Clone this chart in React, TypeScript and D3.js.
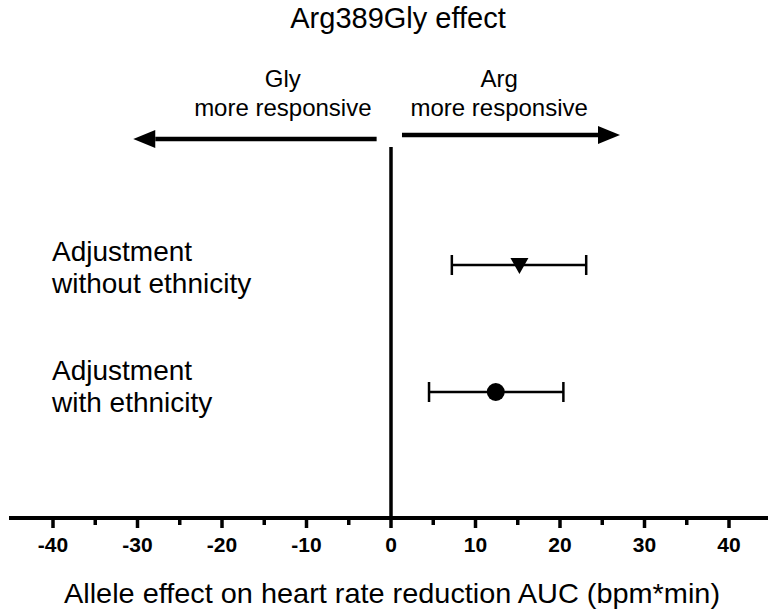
import React from 'react';
import * as d3 from 'd3';

// Estimates
const rowLabels = [['Adjustment', 'without ethnicity'], ['Adjustment', 'with ethnicity']];
const rowKeys = ['without', 'with'];
const estimates = [15.2, 12.4];
const lowerCI = [7.2, 4.5];
const upperCI = [23.1, 20.4];
const markers = ['triangle', 'circle'];

const majorTicks = [-40, -30, -20, -10, 0, 10, 20, 30, 40];
const minorTicks = [-35, -25, -15, -5, 5, 15, 25, 35];

// direction arrows (data units on x)
const arrowFrom = [-1.7, 1.3];
const arrowTo = [-30.5, 27.1];
const arrowLabels = [['Gly', 'more responsive'], ['Arg', 'more responsive']];
const arrowLabelAt = [-12.8, 12.8];

const W = 768;
const H = 614;
const font = '"Liberation Sans", Arial, sans-serif';

export default function App() {
  const x = d3.scaleLinear().domain([-40, 40]).range([53, 729]);
  const y = d3.scalePoint().domain(rowKeys).range([265, 392]);
  const axisY = 518;
  const arrowY = [139, 135];
  const labelOffsets = [[-4, 28], [-12, 20]];

  return (
    <svg width={W} height={H} style={{ position: 'absolute', left: 0, top: 0, background: '#fff' }}>
      <text x={398} y={28} textAnchor="middle" fontFamily={font} fontSize={29}>Arg389Gly effect</text>

      {/* direction annotations */}
      {arrowFrom.map((f, i) => {
        const x0 = x(f);
        const x1 = x(arrowTo[i]);
        const dir = Math.sign(x1 - x0);
        const hl = 22;
        const hw = 9;
        const cx = x(arrowLabelAt[i]);
        return (
          <g key={i}>
            <line x1={x0} x2={x1 - dir * hl} y1={arrowY[i]} y2={arrowY[i]} stroke="#000" strokeWidth={4.5} />
            <path d={`M${x1},${arrowY[i]} L${x1 - dir * hl},${arrowY[i] - hw} L${x1 - dir * hl},${arrowY[i] + hw} Z`} fill="#000" />
            <text x={cx} y={87} textAnchor="middle" fontFamily={font} fontSize={24}>{arrowLabels[i][0]}</text>
            <text x={cx} y={116} textAnchor="middle" fontFamily={font} fontSize={24}>{arrowLabels[i][1]}</text>
          </g>
        );
      })}

      {/* zero line */}
      <line x1={x(0)} x2={x(0)} y1={147} y2={axisY} stroke="#000" strokeWidth={3.5} />

      {/* row labels */}
      {rowLabels.map((lines, i) => {
        const ry = y(rowKeys[i]) as number;
        return (
          <text key={i} fontFamily={font} fontSize={28}>
            <tspan x={52} y={ry + labelOffsets[i][0]}>{lines[0]}</tspan>
            <tspan x={52} y={ry + labelOffsets[i][1]}>{lines[1]}</tspan>
          </text>
        );
      })}

      {/* CI bars + markers */}
      {rowKeys.map((k, i) => {
        const cy = y(k) as number;
        const cx = x(estimates[i]);
        return (
          <g key={k}>
            <line x1={x(lowerCI[i])} x2={x(upperCI[i])} y1={cy} y2={cy} stroke="#000" strokeWidth={2.5} />
            <line x1={x(lowerCI[i])} x2={x(lowerCI[i])} y1={cy - 10} y2={cy + 10} stroke="#000" strokeWidth={2.5} />
            <line x1={x(upperCI[i])} x2={x(upperCI[i])} y1={cy - 10} y2={cy + 10} stroke="#000" strokeWidth={2.5} />
            {markers[i] === 'triangle' ? (
              <path d={`M${cx - 9},${cy - 7} L${cx + 9},${cy - 7} L${cx},${cy + 9} Z`} fill="#000" />
            ) : (
              <circle cx={cx} cy={cy} r={9} fill="#000" />
            )}
          </g>
        );
      })}

      {/* x axis */}
      <line x1={9} x2={W} y1={axisY} y2={axisY} stroke="#000" strokeWidth={4} />
      {majorTicks.map(t => (
        <g key={t}>
          <line x1={x(t)} x2={x(t)} y1={axisY} y2={axisY + 10} stroke="#000" strokeWidth={3.5} />
          <text x={x(t)} y={552} textAnchor="middle" fontFamily={font} fontWeight="bold" fontSize={21}>{t}</text>
        </g>
      ))}
      {minorTicks.map(t => (
        <line key={t} x1={x(t)} x2={x(t)} y1={axisY} y2={axisY + 7} stroke="#000" strokeWidth={3.5} />
      ))}
      <text x={392} y={603} textAnchor="middle" fontFamily={font} fontSize={28} textLength={656} lengthAdjust="spacingAndGlyphs">
        Allele effect on heart rate reduction AUC (bpm*min)
      </text>
    </svg>
  );
}
